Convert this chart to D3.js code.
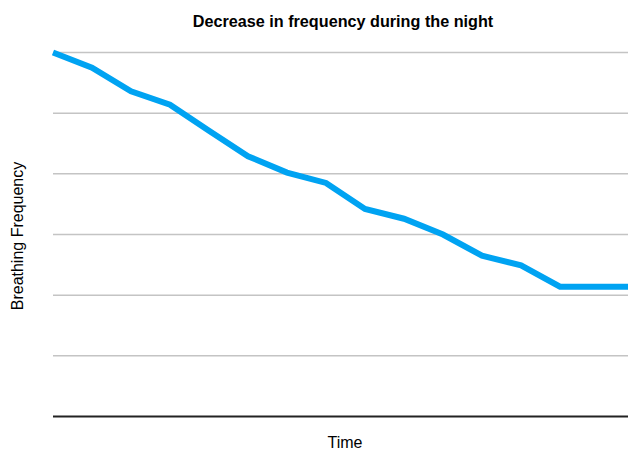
<!DOCTYPE html>
<html><head><meta charset="utf-8">
<script src="https://cdn.jsdelivr.net/npm/d3@7"></script>
<style>body{margin:0;background:#fff}svg{display:block}</style>
</head><body>
<script>
const title = "Decrease in frequency during the night";
const xLabel = "Time";
const yLabel = "Breathing Frequency";
const timePoints = [0,1,2,3,4,5,6,7,8,9,10,11,12,13,14,15];
const frequency = [6.0,5.75,5.36,5.14,4.71,4.29,4.02,3.85,3.42,3.26,3.0,2.65,2.49,2.14,2.14,2.14];
const gridTicks = [1,2,3,4,5,6];

const W = 628, H = 451;
const svg = d3.select("body").append("svg").attr("width", W).attr("height", H);
const x = d3.scaleLinear().domain([0, 15]).range([53, 638]);
const y = d3.scaleLinear().domain([0, 6]).range([416.5, 52.5]);

svg.append("g").selectAll("line").data(gridTicks).join("line")
  .attr("x1", 53).attr("x2", W)
  .attr("y1", d => y(d)).attr("y2", d => y(d))
  .attr("stroke", "#c4c4c4").attr("stroke-width", 1.5);

svg.append("line").attr("x1", 53).attr("x2", W)
  .attr("y1", y(0)).attr("y2", y(0))
  .attr("stroke", "#222").attr("stroke-width", 1.8);

const line = d3.line().x((d,i) => x(timePoints[i])).y(d => y(d));
svg.append("path").datum(frequency).attr("d", line)
  .attr("fill", "none").attr("stroke", "#00a3f2")
  .attr("stroke-width", 6).attr("stroke-linejoin", "miter");

svg.append("text").attr("x", 343).attr("y", 26.5).attr("text-anchor", "middle")
  .attr("font-family", "Liberation Sans, Arial, sans-serif").attr("font-weight", "bold")
  .attr("font-size", 16.2).attr("fill", "#000").text(title);

svg.append("text").attr("x", 345).attr("y", 448).attr("text-anchor", "middle")
  .attr("font-family", "Liberation Sans, Arial, sans-serif")
  .attr("font-size", 16).attr("fill", "#000").text(xLabel);

svg.append("text").attr("transform", "translate(23,236) rotate(-90)").attr("text-anchor", "middle")
  .attr("font-family", "Liberation Sans, Arial, sans-serif")
  .attr("font-size", 16).attr("fill", "#000").text(yLabel);
</script>
</body></html>
